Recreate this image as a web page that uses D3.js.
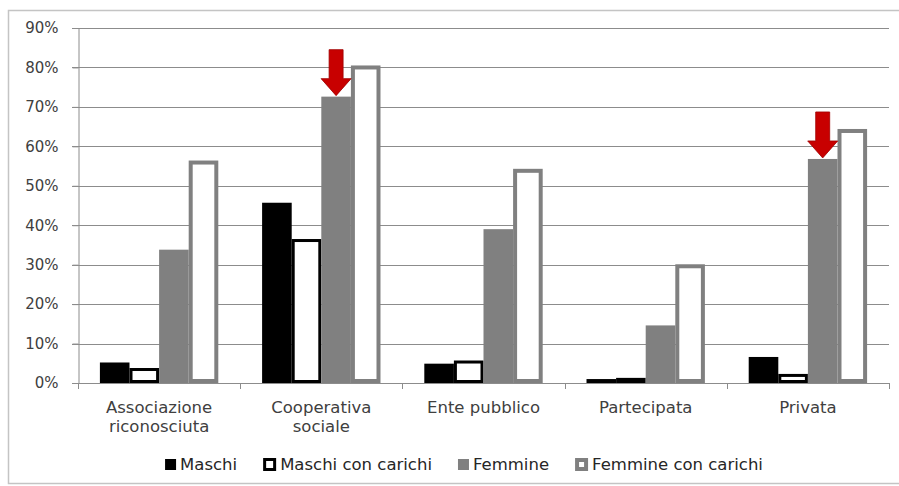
<!DOCTYPE html>
<html>
<head>
<meta charset="utf-8">
<script src="https://cdn.jsdelivr.net/npm/d3@7"></script>
<style>
  body { margin: 0; background: #fff; }
  svg { display: block; }
  text { font-family: "DejaVu Sans", sans-serif; }
</style>
</head>
<body>
<script>
var fullWidth = 899;
var fullHeight = 486;

// chart data
var categories = [["Associazione", "riconosciuta"], ["Cooperativa", "sociale"], ["Ente pubblico"], ["Partecipata"], ["Privata"]];
var seriesNames = ["Maschi", "Maschi con carichi", "Femmine", "Femmine con carichi"];
var maschi = [0.052, 0.457, 0.049, 0.010, 0.066];
var maschiCarichi = [0.038, 0.365, 0.057, 0.013, 0.023];
var femmine = [0.338, 0.726, 0.390, 0.146, 0.568];
var femmineCarichi = [0.564, 0.805, 0.543, 0.301, 0.644];
var yTicks = [0, 0.1, 0.2, 0.3, 0.4, 0.5, 0.6, 0.7, 0.8, 0.9];
// arrows point at these Femmine bars
var arrowCats = [1, 4];

var seriesValues = [maschi, maschiCarichi, femmine, femmineCarichi];
var seriesStyle = [
  {fill: "#000000", stroke: "none", sw: 0},
  {fill: "#ffffff", stroke: "#000000", sw: 3},
  {fill: "#808080", stroke: "none", sw: 0},
  {fill: "#ffffff", stroke: "#808080", sw: 4}
];

var margin = {top: 28, right: 10, bottom: 103, left: 78};
var plotRight = 889;

var svg = d3.select("body").append("svg")
    .attr("width", fullWidth)
    .attr("height", fullHeight);

// outer frame
svg.append("rect")
   .attr("x", 8.5).attr("y", 10.5)
   .attr("width", 900).attr("height", 473)
   .attr("fill", "none")
   .attr("stroke", "#c4c4c4")
   .attr("stroke-width", 1.5);

var x0 = d3.scaleBand()
    .domain(d3.range(categories.length))
    .range([margin.left, plotRight]);

var x1 = d3.scaleBand()
    .domain(d3.range(seriesNames.length))
    .range([0, x0.bandwidth()])
    .paddingOuter(0.74);

var y = d3.scaleLinear()
    .domain([0, 0.9])
    .range([383, 28]);

// gridlines
svg.append("g")
   .selectAll("line")
   .data(yTicks.slice(1))
   .enter().append("line")
   .attr("x1", margin.left - 6).attr("x2", plotRight)
   .attr("y1", function(d) { return Math.round(y(d)) + 0.5; })
   .attr("y2", function(d) { return Math.round(y(d)) + 0.5; })
   .attr("stroke", "#8c8c8c")
   .attr("stroke-width", 1);

// y axis
var yAxis = svg.append("g")
   .attr("transform", "translate(" + (margin.left + 0.5) + ",0)")
   .call(d3.axisLeft(y).tickValues(yTicks).tickSize(6).tickPadding(14)
           .tickFormat(d3.format(".0%")));
yAxis.select(".domain").attr("stroke", "#8c8c8c");
yAxis.selectAll(".tick line").attr("stroke", "#8c8c8c");
yAxis.selectAll(".tick text")
     .attr("fill", "#404040")
     .style("font-size", "15px")
     .style("font-family", "DejaVu Sans, sans-serif");

// bars
seriesValues.forEach(function(vals, s) {
  var st = seriesStyle[s];
  svg.append("g")
     .selectAll("rect")
     .data(vals)
     .enter().append("rect")
     .attr("x", function(d, i) { return x0(i) + x1(s) + st.sw / 2; })
     .attr("y", function(d) { return y(d) + st.sw / 2; })
     .attr("width", x1.bandwidth() - st.sw)
     .attr("height", function(d) { return Math.max(0, y(0) - y(d) - st.sw); })
     .attr("fill", st.fill)
     .attr("stroke", st.stroke)
     .attr("stroke-width", st.sw);
});

// x axis
var xAxisG = svg.append("g");
xAxisG.append("line")
   .attr("x1", margin.left - 6).attr("x2", plotRight)
   .attr("y1", 383.5).attr("y2", 383.5)
   .attr("stroke", "#8c8c8c");
xAxisG.selectAll(".xtick")
   .data(d3.range(categories.length + 1))
   .enter().append("line")
   .attr("x1", function(i) { return Math.round(margin.left + i * x0.step()) + 0.5; })
   .attr("x2", function(i) { return Math.round(margin.left + i * x0.step()) + 0.5; })
   .attr("y1", 383).attr("y2", 389)
   .attr("stroke", "#8c8c8c");

var catLabels = svg.append("g")
   .selectAll("text")
   .data(categories)
   .enter().append("text")
   .attr("x", function(d, i) { return x0(i) + x0.bandwidth() / 2; })
   .attr("y", 413)
   .attr("text-anchor", "middle")
   .attr("fill", "#404040")
   .style("font-size", "16.5px");
catLabels.selectAll("tspan")
   .data(function(d) { return d; })
   .enter().append("tspan")
   .attr("x", function() { return d3.select(this.parentNode).attr("x"); })
   .attr("dy", function(d, i) { return i === 0 ? 0 : 19; })
   .text(function(d) { return d; });

// red arrows above Femmine bars
arrowCats.forEach(function(c) {
  var cx = x0(c) + x1(2) + x1.bandwidth() / 2;
  var tip = y(femmine[c]) - 1;
  var p = d3.path();
  p.moveTo(cx, tip);
  p.lineTo(cx - 15, tip - 17);
  p.lineTo(cx - 7, tip - 17);
  p.lineTo(cx - 7, tip - 46);
  p.lineTo(cx + 7, tip - 46);
  p.lineTo(cx + 7, tip - 17);
  p.lineTo(cx + 15, tip - 17);
  p.closePath();
  svg.append("path")
     .attr("d", p.toString())
     .attr("fill", "#c80000")
     .attr("stroke", "#a00000")
     .attr("stroke-width", 0.8);
});

// legend
var legend = svg.append("g");
var lx = 0;
seriesNames.forEach(function(name, s) {
  var st = seriesStyle[s];
  var g = legend.append("g").attr("transform", "translate(" + lx + ",0)");
  var box = s === 1 || s === 3 ? 13 : 11;
  g.append("rect")
   .attr("x", st.sw / 2).attr("y", 470 - box + (s === 1 || s === 3 ? 1 : 0) + st.sw / 2)
   .attr("width", box - st.sw).attr("height", box - st.sw)
   .attr("fill", st.fill)
   .attr("stroke", st.stroke)
   .attr("stroke-width", st.sw);
  var t = g.append("text")
   .attr("x", box + 4).attr("y", 470)
   .attr("fill", "#262626")
   .style("font-size", "16.5px")
   .text(name);
  lx += box + 4 + t.node().getComputedTextLength() + 26;
});
var legendWidth = lx - 26;
legend.attr("transform", "translate(" + (464 - legendWidth / 2) + ",0)");
</script>
</body>
</html>
